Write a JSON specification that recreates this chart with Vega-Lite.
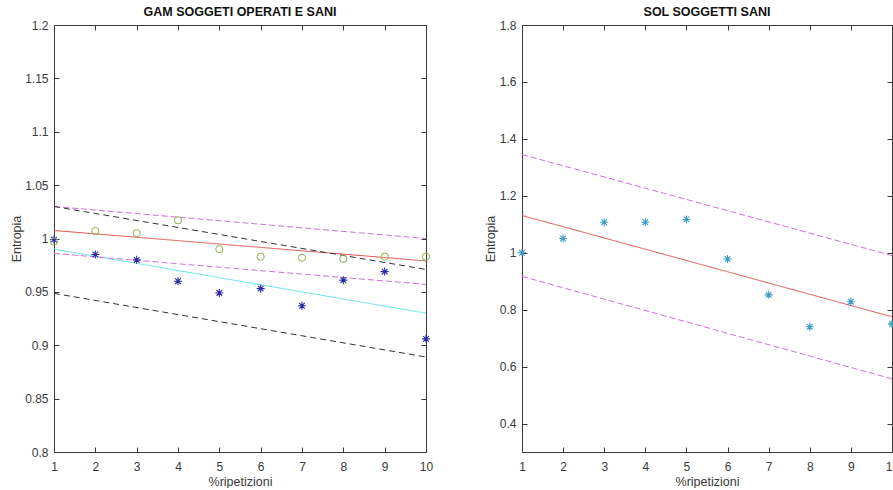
{
  "$schema": "https://vega.github.io/schema/vega-lite/v6.json",
  "background": "white",
  "padding": {"left": 10, "top": 5, "right": 0, "bottom": 0},
  "datasets": {
    "left_points": [
      {"x": 1, "y": 0.999, "gruppo": "operati"},
      {"x": 2, "y": 0.985, "gruppo": "operati"},
      {"x": 3, "y": 0.980, "gruppo": "operati"},
      {"x": 4, "y": 0.960, "gruppo": "operati"},
      {"x": 5, "y": 0.949, "gruppo": "operati"},
      {"x": 6, "y": 0.953, "gruppo": "operati"},
      {"x": 7, "y": 0.937, "gruppo": "operati"},
      {"x": 8, "y": 0.961, "gruppo": "operati"},
      {"x": 9, "y": 0.969, "gruppo": "operati"},
      {"x": 10, "y": 0.906, "gruppo": "operati"},
      {"x": 1, "y": 0.997, "gruppo": "sani"},
      {"x": 2, "y": 1.007, "gruppo": "sani"},
      {"x": 3, "y": 1.005, "gruppo": "sani"},
      {"x": 4, "y": 1.017, "gruppo": "sani"},
      {"x": 5, "y": 0.990, "gruppo": "sani"},
      {"x": 6, "y": 0.983, "gruppo": "sani"},
      {"x": 7, "y": 0.982, "gruppo": "sani"},
      {"x": 8, "y": 0.981, "gruppo": "sani"},
      {"x": 9, "y": 0.983, "gruppo": "sani"},
      {"x": 10, "y": 0.983, "gruppo": "sani"}
    ],
    "left_lines": [
      {"x": 1, "y": 1.0075, "serie": "fit sani"},
      {"x": 10, "y": 0.979, "serie": "fit sani"},
      {"x": 1, "y": 0.990, "serie": "fit operati"},
      {"x": 10, "y": 0.930, "serie": "fit operati"},
      {"x": 1, "y": 1.030, "serie": "sani sup"},
      {"x": 10, "y": 1.000, "serie": "sani sup"},
      {"x": 1, "y": 0.986, "serie": "sani inf"},
      {"x": 10, "y": 0.957, "serie": "sani inf"},
      {"x": 1, "y": 1.030, "serie": "operati sup"},
      {"x": 10, "y": 0.971, "serie": "operati sup"},
      {"x": 1, "y": 0.9486, "serie": "operati inf"},
      {"x": 10, "y": 0.889, "serie": "operati inf"}
    ],
    "right_points": [
      {"x": 1, "y": 1.000},
      {"x": 2, "y": 1.050},
      {"x": 3, "y": 1.107},
      {"x": 4, "y": 1.107},
      {"x": 5, "y": 1.117},
      {"x": 6, "y": 0.978},
      {"x": 7, "y": 0.852},
      {"x": 8, "y": 0.740},
      {"x": 9, "y": 0.828},
      {"x": 10, "y": 0.750}
    ],
    "right_lines": [
      {"x": 1, "y": 1.131, "serie": "sol fit"},
      {"x": 10, "y": 0.775, "serie": "sol fit"},
      {"x": 1, "y": 1.345, "serie": "sol sup"},
      {"x": 10, "y": 0.990, "serie": "sol sup"},
      {"x": 1, "y": 0.917, "serie": "sol inf"},
      {"x": 10, "y": 0.557, "serie": "sol inf"}
    ]
  },
  "spacing": 96,
  "bounds": "flush",
  "resolve": {"scale": {"color": "independent", "strokeDash": "independent"}},
  "hconcat": [
    {
      "width": 372,
      "height": 427,
      "title": {"text": "GAM SOGGETI OPERATI E SANI"},
      "resolve": {"axis": {"x": "independent", "y": "independent"}},
      "layer": [
        {
          "data": {"name": "left_lines"},
          "mark": {"type": "line", "strokeWidth": 1, "clip": true},
          "encoding": {
            "x": {"field": "x", "type": "quantitative", "scale": {"domain": [1, 10], "nice": false, "zero": false},
                  "axis": {"orient": "bottom", "values": [1,2,3,4,5,6,7,8,9,10], "format": "d", "title": "%ripetizioni"}},
            "y": {"field": "y", "type": "quantitative", "scale": {"domain": [0.8, 1.2], "nice": false, "zero": false},
                  "axis": {"orient": "left", "values": [0.8,0.85,0.9,0.95,1,1.05,1.1,1.15,1.2], "format": "~g", "title": "Entropia"}},
            "color": {"field": "serie", "type": "nominal", "legend": null,
                      "scale": {"domain": ["fit sani", "fit operati", "sani sup", "sani inf", "operati sup", "operati inf"],
                                "range": ["#e0504a", "#5fe3ea", "#d46ee0", "#d46ee0", "#333333", "#333333"]}},
            "strokeDash": {"field": "serie", "type": "nominal", "legend": null,
                      "scale": {"domain": ["fit sani", "fit operati", "sani sup", "sani inf", "operati sup", "operati inf"],
                                "range": [[1, 0], [1, 0], [6, 3], [6, 3], [6, 4], [6, 4]]}}
          }
        },
        {
          "data": {"name": "left_points"},
          "transform": [{"filter": "datum.gruppo === 'operati'"}],
          "mark": {"type": "point", "shape": "M-1,0H1M0,-1V1M-0.7,-0.7L0.7,0.7M-0.7,0.7L0.7,-0.7", "filled": false, "size": 64, "strokeWidth": 1.1, "color": "#2a2aa8", "opacity": 1},
          "encoding": {
            "x": {"field": "x", "type": "quantitative", "scale": {"domain": [1, 10], "nice": false, "zero": false},
                  "axis": {"orient": "top", "values": [1,2,3,4,5,6,7,8,9,10], "labels": false, "title": null}},
            "y": {"field": "y", "type": "quantitative", "scale": {"domain": [0.8, 1.2], "nice": false, "zero": false},
                  "axis": {"orient": "right", "values": [0.8,0.85,0.9,0.95,1,1.05,1.1,1.15,1.2], "labels": false, "title": null}}
          }
        },
        {
          "data": {"name": "left_points"},
          "transform": [{"filter": "datum.gruppo === 'sani'"}],
          "mark": {"type": "point", "shape": "circle", "filled": false, "size": 52, "strokeWidth": 1, "color": "#8db04a", "opacity": 1},
          "encoding": {
            "x": {"field": "x", "type": "quantitative", "scale": {"domain": [1, 10], "nice": false, "zero": false}, "axis": null},
            "y": {"field": "y", "type": "quantitative", "scale": {"domain": [0.8, 1.2], "nice": false, "zero": false}, "axis": null}
          }
        }
      ]
    },
    {
      "width": 370,
      "height": 427,
      "title": {"text": "SOL SOGGETTI SANI"},
      "resolve": {"axis": {"x": "independent", "y": "independent"}},
      "layer": [
        {
          "data": {"name": "right_lines"},
          "mark": {"type": "line", "strokeWidth": 1, "clip": true},
          "encoding": {
            "x": {"field": "x", "type": "quantitative", "scale": {"domain": [1, 10], "nice": false, "zero": false},
                  "axis": {"orient": "bottom", "values": [1,2,3,4,5,6,7,8,9,10], "format": "d", "title": "%ripetizioni"}},
            "y": {"field": "y", "type": "quantitative", "scale": {"domain": [0.3, 1.8], "nice": false, "zero": false},
                  "axis": {"orient": "left", "values": [0.4,0.6,0.8,1,1.2,1.4,1.6,1.8], "format": "~g", "title": "Entropia"}},
            "color": {"field": "serie", "type": "nominal", "legend": null,
                      "scale": {"domain": ["sol fit", "sol sup", "sol inf"], "range": ["#e0504a", "#d46ee0", "#d46ee0"]}},
            "strokeDash": {"field": "serie", "type": "nominal", "legend": null,
                      "scale": {"domain": ["sol fit", "sol sup", "sol inf"], "range": [[1, 0], [6, 3], [6, 3]]}}
          }
        },
        {
          "data": {"name": "right_points"},
          "mark": {"type": "point", "shape": "M-1,0H1M0,-1V1M-0.7,-0.7L0.7,0.7M-0.7,0.7L0.7,-0.7", "filled": false, "size": 64, "strokeWidth": 1.1, "color": "#3d9cc4", "opacity": 1},
          "encoding": {
            "x": {"field": "x", "type": "quantitative", "scale": {"domain": [1, 10], "nice": false, "zero": false},
                  "axis": {"orient": "top", "values": [1,2,3,4,5,6,7,8,9,10], "labels": false, "title": null}},
            "y": {"field": "y", "type": "quantitative", "scale": {"domain": [0.3, 1.8], "nice": false, "zero": false},
                  "axis": {"orient": "right", "values": [0.4,0.6,0.8,1,1.2,1.4,1.6,1.8], "labels": false, "title": null}}
          }
        }
      ]
    }
  ],
  "config": {
    "view": {"stroke": null},
    "font": "Liberation Sans",
    "title": {"font": "Liberation Sans", "fontSize": 12.5, "fontWeight": "bold", "color": "#111111", "offset": 1},
    "axis": {
      "grid": false,
      "domainColor": "#3a3a3a",
      "tickColor": "#3a3a3a",
      "tickSize": -5,
      "labelFont": "Liberation Sans",
      "labelFontSize": 12,
      "labelColor": "#3a3a3a",
      "labelPadding": 11,
      "titleFont": "Liberation Sans",
      "titleFontSize": 12.5,
      "titleFontWeight": "normal",
      "titleColor": "#3a3a3a",
      "labelOverlap": false,
      "labelFlush": false
    },
    "axisX": {"titlePadding": 3, "labelPadding": 14.5},
    "axisY": {"titlePadding": 1.5}
  }
}
